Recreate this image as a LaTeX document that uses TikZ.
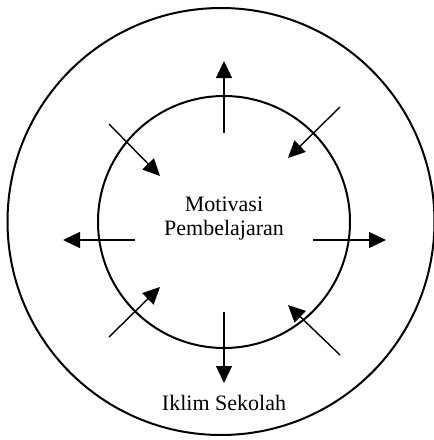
\documentclass[tikz,border=0pt]{standalone}
\usepackage{fontspec}
\setmainfont{Liberation Serif}
\usetikzlibrary{arrows.meta}

\begin{document}
\begin{tikzpicture}[
  x=1pt,y=-1pt,
  >={Triangle[length=17pt,width=16pt]},
  ring/.style={draw,line width=2pt},
  flow/.style={->,line width=1.4pt},
  label/.style={font=\fontsize{22}{24}\selectfont,align=center}
]
  \useasboundingbox (0,0) rectangle (434,440);
  % the two circles
  \draw[ring] (221,221.5) circle (213.5);
  \draw[ring] (224,222) circle (126);

  \node[label] (motiv) at (224,219) {Motivasi\\Pembelajaran};
  \node[label] (iklim) at (224,403) {Iklim Sekolah};

  % arrow ends
  \coordinate (up1) at (224,133);   \coordinate (up2) at (224,61);
  \coordinate (dn1) at (224,312);   \coordinate (dn2) at (224,383);
  \coordinate (lf1) at (135,240);   \coordinate (lf2) at (63,240);
  \coordinate (rt1) at (313,240);   \coordinate (rt2) at (386,240);
  \coordinate (ul1) at (109,124);   \coordinate (ul2) at (160,176);
  \coordinate (ur1) at (340,107);   \coordinate (ur2) at (288,158);
  \coordinate (ll1) at (109,337);   \coordinate (ll2) at (160,287);
  \coordinate (lr1) at (340,355);   \coordinate (lr2) at (288,305);

  \foreach \a in {up,dn,lf,rt,ul,ur,ll,lr}
    \draw[flow] (\a1) -- (\a2);
\end{tikzpicture}
\end{document}
